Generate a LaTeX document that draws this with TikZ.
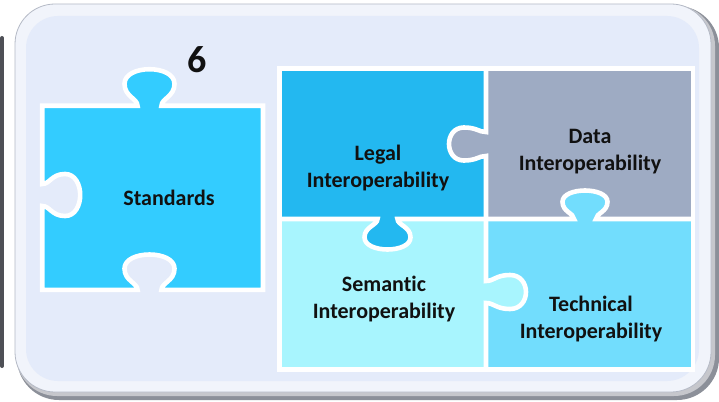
\documentclass[tikz,border=0pt]{standalone}
\usepackage{fontspec}
\setmainfont[Ligatures=NoCommon]{Carlito}
\definecolor{stdc}{HTML}{33CCFF}
\definecolor{legc}{HTML}{23B8F0}
\definecolor{datc}{HTML}{9EABC3}
\definecolor{semc}{HTML}{A8F5FE}
\definecolor{tecc}{HTML}{72DDFD}
\definecolor{panc}{HTML}{E4EBFA}
\definecolor{rimc}{HTML}{F1F4FB}
\definecolor{shdc}{HTML}{8C9099}
\definecolor{edgc}{HTML}{B5BAC6}
\definecolor{nbrc}{HTML}{4E5056}
\definecolor{txtc}{HTML}{111111}
\tikzset{
  kh/.style n args={6}{insert path={ -- ({#1-(#4)},{#2})
     .. controls ({#1-(#4)},{#2+(#3)*0.2*(#6)}) and ({#1-(#5)},{#2+(#3)*0.25*(#6)}) .. ({#1-(#5)},{#2+(#3)*0.6*(#6)})
     .. controls ({#1-(#5)},{#2+(#3)*1.133*(#6)}) and ({#1+(#5)},{#2+(#3)*1.133*(#6)}) .. ({#1+(#5)},{#2+(#3)*0.6*(#6)})
     .. controls ({#1+(#5)},{#2+(#3)*0.25*(#6)}) and ({#1+(#4)},{#2+(#3)*0.2*(#6)}) .. ({#1+(#4)},{#2}) }},
  kv/.style n args={6}{insert path={ -- ({#2},{#1-(#4)})
     .. controls ({#2+(#3)*0.2*(#6)},{#1-(#4)}) and ({#2+(#3)*0.25*(#6)},{#1-(#5)}) .. ({#2+(#3)*0.6*(#6)},{#1-(#5)})
     .. controls ({#2+(#3)*1.133*(#6)},{#1-(#5)}) and ({#2+(#3)*1.133*(#6)},{#1+(#5)}) .. ({#2+(#3)*0.6*(#6)},{#1+(#5)})
     .. controls ({#2+(#3)*0.25*(#6)},{#1+(#5)}) and ({#2+(#3)*0.2*(#6)},{#1+(#4)}) .. ({#2},{#1+(#4)}) }},
  wline/.style={draw=white, line width=4.6pt},
  lbl/.style={font=\fontsize{22}{27}\selectfont\bfseries, align=center, inner sep=0pt, text=txtc, anchor=base},
  numlbl/.style={font=\fontsize{38}{40}\selectfont\bfseries, inner sep=0pt, text=txtc, anchor=base}
}
\begin{document}
\begin{tikzpicture}[x=1pt,y=-1pt]
\useasboundingbox (0,0) rectangle (719,401);
\fill[white] (0,0) rectangle (719,401);
% neighbouring panel edge
\draw[nbrc, line width=4pt, line cap=round] (2,38) -- (2,366);
% panel
\fill[shdc, rounded corners=42pt] (17,6) rectangle (719,400);
\fill[shdc!50!white, rounded corners=41pt] (16,5) rectangle (715,396);
\fill[rimc, draw=edgc, line width=0.8pt, rounded corners=40pt] (15,4) rectangle (711,392);
\fill[panc, rounded corners=32pt] (26,16) rectangle (699,381);
% Standards piece
\draw[wline, fill=stdc] (42.2,105.8) [kh={149.5}{105.8}{-1}{12}{25}{36.6}] -- (263,105.8) -- (263,289.8)
   [kh={149.5}{289.8}{-1}{-12}{-25}{35.3}] -- (42.2,289.8)
   [kv={195}{42.2}{1}{-11}{-21}{38}] -- cycle;
% grid cells
\fill[legc] (279.5,68.5) rectangle (486,219);
\fill[datc] (486,68.5) rectangle (693,219);
\fill[semc] (279.5,219) rectangle (486,369.5);
\fill[tecc] (486,219) rectangle (693,369.5);
% knobs
\fill[datc] (486,132) [kv={144}{486}{-1}{12}{16.5}{37}] -- cycle;
\fill[tecc] (574,219) [kh={585}{219}{-1}{11}{22.5}{28.5}] -- cycle;
\fill[legc] (377.5,219) [kh={387.5}{219}{1}{10}{23}{30.5}] -- cycle;
\fill[semc] (486,281) [kv={292}{486}{1}{11}{17}{40}] -- cycle;
% white borders
\draw[wline] (279.5,68.5) rectangle (693,369.5);
\draw[wline] (486,68.5) [kv={144}{486}{-1}{12}{16.5}{37}] [kv={292}{486}{1}{11}{17}{40}] -- (486,369.5);
\draw[wline] (279.5,219) [kh={387.5}{219}{1}{10}{23}{30.5}] [kh={585}{219}{-1}{11}{22.5}{28.5}] -- (693,219);
% labels
\node[numlbl] (six) at (197.5,73) {6};
\node[lbl] (standards) at (169,205) {Standards};
\node[lbl] (legal) at (378,187) {Legal\\Interoperability};
\node[lbl] (data) at (590,170) {Data\\Interoperability};
\node[lbl] (semantic) at (384,318) {Semantic\\Interoperability};
\node[lbl] (technical) at (591,338) {Technical\\Interoperability};
\end{tikzpicture}
\end{document}
